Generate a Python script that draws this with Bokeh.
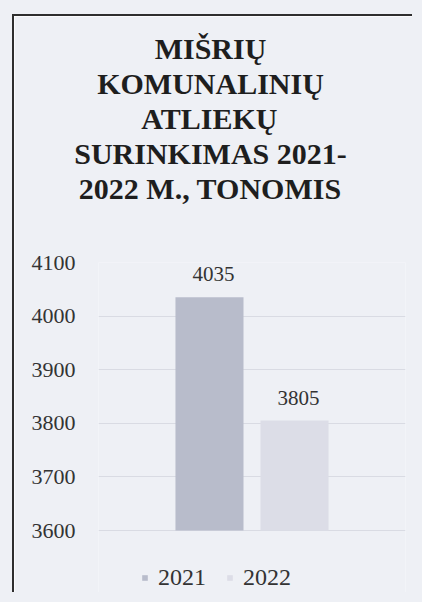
from bokeh.plotting import figure
from bokeh.models import (ColumnDataSource, FactorRange, Title, LabelSet, Legend,
                          LegendItem, FixedTicker)
from bokeh.embed import file_html
from bokeh.resources import INLINE

# ---- data ----
title_lines = ["MIŠRIŲ", "KOMUNALINIŲ", "ATLIEKŲ", "SURINKIMAS 2021-", "2022 M., TONOMIS"]
years = ["2021", "2022"]
values = [4035, 3805]
bar_colors = ["#b8bccb", "#dcdde7"]
y_ticks = [3600, 3700, 3800, 3900, 4000, 4100]
y_min, y_max = 3600, 4100

PAPER = "#eef0f5"
SERIF = "Liberation Serif"
TITLE_PX = 30

# ---- layout (canvas pixels) ----
W, H = 400, 578
FRAME_L, FRAME_R, FRAME_T = 84, 391, 246
AXIS_BOTTOM_PX = 514            # where y_min sits
TITLE_CENTER_X = 196
px_per_unit = (AXIS_BOTTOM_PX - FRAME_T) / (y_max - y_min)
y_start = y_min - (H - AXIS_BOTTOM_PX) / px_per_unit

# Times/Liberation Serif Bold advance widths (1/1000 em) for centring the title lines
ADV = {"M": 944, "I": 389, "Š": 556, "S": 556, "R": 722, "Ų": 722, "U": 722, "K": 778,
       "O": 778, "N": 722, "A": 722, "L": 667, "T": 667, "E": 667, " ": 250, "2": 500,
       "0": 500, "1": 500, "-": 333, ".": 250, ",": 250}
def text_w(s):
    return sum(ADV.get(c, 600) for c in s) * TITLE_PX / 1000.0

src = ColumnDataSource(dict(year=years, value=values, color=bar_colors,
                            label=[str(v) for v in values]))

p = figure(width=W, height=H,
           x_range=FactorRange(factors=years, range_padding=0.805),
           y_range=(y_start, y_max),
           output_backend="svg", toolbar_location=None,
           min_border_left=FRAME_L, min_border_right=W - FRAME_R, min_border_bottom=0,
           min_border_top=FRAME_T,
           background_fill_color=PAPER, border_fill_color=PAPER)
p.outline_line_color = None
p.styles = {"margin-left": "12px", "margin-top": "14px",
            "border-left": "2px solid #2e2e2e", "border-top": "2px solid #2e2e2e",
            "box-shadow": f"0 0 0 16px {PAPER}"}

r = p.vbar(x="year", top="value", bottom=y_min, width=0.8, fill_color="color",
           line_color=None, source=src)

labels = LabelSet(x="year", y="value", text="label", source=src, text_align="center",
                  text_baseline="alphabetic", y_offset=16, x_offset=4,
                  text_font=SERIF, text_font_size="21px", text_color="#333333")
p.add_layout(labels)

p.xaxis.visible = False
p.xgrid.grid_line_color = None
p.ygrid.grid_line_color = "#d9dbe3"
p.ygrid.ticker = FixedTicker(ticks=y_ticks)
p.yaxis.ticker = FixedTicker(ticks=y_ticks)
p.yaxis.axis_line_color = None
p.yaxis.major_tick_line_color = None
p.yaxis.minor_tick_line_color = None
p.yaxis.major_label_standoff = 17
p.yaxis.major_label_text_font = SERIF
p.yaxis.major_label_text_font_size = "22px"
p.yaxis.major_label_text_color = "#333333"

items = [LegendItem(label=years[i], renderers=[r], index=i) for i in range(len(years))]
legend = Legend(items=items, orientation="horizontal", location=(43, 3),
                label_text_font=SERIF, label_text_font_size="24px",
                label_text_color="#333333", glyph_width=7, glyph_height=7,
                label_standoff=10, spacing=20, padding=4, margin=0,
                background_fill_alpha=0, border_line_color=None)
p.add_layout(legend)

# spacer between the title block and the plot frame
p.add_layout(Title(text=" ", text_font_size="1px", standoff=55), "above")
for line in reversed(title_lines):
    p.add_layout(Title(text=line, align="left", text_font=SERIF,
                       text_font_size=f"{TITLE_PX}px", text_font_style="bold",
                       text_color="#1e1e1e",
                       offset=TITLE_CENTER_X - FRAME_L - text_w(line) / 2,
                       standoff=0), "above")

open("out.html", "w").write(file_html(p, INLINE))
